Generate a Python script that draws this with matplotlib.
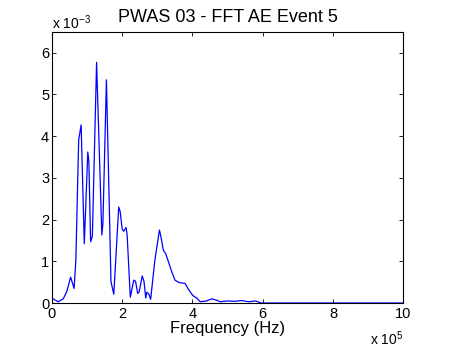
import matplotlib
matplotlib.use("Agg")
import matplotlib.pyplot as plt

plt.rcParams['font.family'] = ['Liberation Sans', 'DejaVu Sans']
plt.rcParams['mathtext.fontset'] = 'custom'
plt.rcParams['mathtext.rm'] = 'Liberation Sans'
plt.rcParams['mathtext.default'] = 'regular'

# Frequency in units of 1e5 Hz, amplitude in units of 1e-3
freq_e5 = [0.0, 0.05, 0.18, 0.32, 0.42, 0.53, 0.63, 0.68, 0.76, 0.83, 0.92,
           1.02, 1.05, 1.10, 1.15, 1.27, 1.42, 1.45, 1.55, 1.68, 1.76, 1.90,
           1.94, 2.00, 2.04, 2.11, 2.14, 2.23, 2.33, 2.38, 2.44, 2.48, 2.57,
           2.62, 2.67, 2.70, 2.76, 2.81, 2.93, 3.06, 3.10, 3.17, 3.24, 3.41,
           3.50, 3.62, 3.79, 3.90, 4.01, 4.12, 4.22, 4.40, 4.55, 4.68, 4.79,
           5.00, 5.20, 5.40, 5.60, 5.80, 5.95, 7.0, 8.5, 10.0]
amp_e3 = [0.12, 0.09, 0.03, 0.10, 0.27, 0.62, 0.35, 1.03, 3.91, 4.27, 1.42,
          3.62, 3.40, 1.47, 1.60, 5.77, 1.63, 1.90, 5.35, 0.51, 0.21, 2.30,
          2.20, 1.77, 1.72, 1.81, 1.63, 0.14, 0.55, 0.52, 0.23, 0.26, 0.65,
          0.52, 0.12, 0.26, 0.21, 0.09, 1.03, 1.75, 1.60, 1.27, 1.18, 0.75,
          0.55, 0.49, 0.47, 0.31, 0.18, 0.12, 0.03, 0.05, 0.10, 0.07, 0.03,
          0.05, 0.04, 0.06, 0.03, 0.05, 0.0, 0.0, 0.0, 0.0]

x_ticks = [0, 2, 4, 6, 8, 10]
y_ticks = [0, 1, 2, 3, 4, 5, 6]

fig = plt.figure(figsize=(4.52, 3.54), dpi=100)
ax = fig.add_axes([0.115, 0.144, 0.777, 0.766])
ax.plot(freq_e5, amp_e3, color=(0, 0, 1), lw=0.9)
ax.set_xlim(0, 10)
ax.set_ylim(0, 6.5)
ax.set_xticks(x_ticks)
ax.set_yticks(y_ticks)
ax.tick_params(direction='in', top=True, right=True, length=3, width=0.6,
               labelsize=10.5)
ax.tick_params(axis='x', pad=3)
ax.tick_params(axis='y', pad=2)
for s in ax.spines.values():
    s.set_linewidth(0.8)
ax.set_xlabel('Frequency (Hz)', fontsize=12, labelpad=0)
ax.set_title('PWAS 03 - FFT AE Event 5', fontsize=13, pad=7)
ax.text(0.0, 1.012, r'x 10$^{-3}$', transform=ax.transAxes, fontsize=10,
        ha='left', va='baseline')
ax.text(1.0, -0.155, r'x 10$^{5}$', transform=ax.transAxes, fontsize=10,
        ha='right', va='baseline')
fig.savefig('out.png', dpi=100)
